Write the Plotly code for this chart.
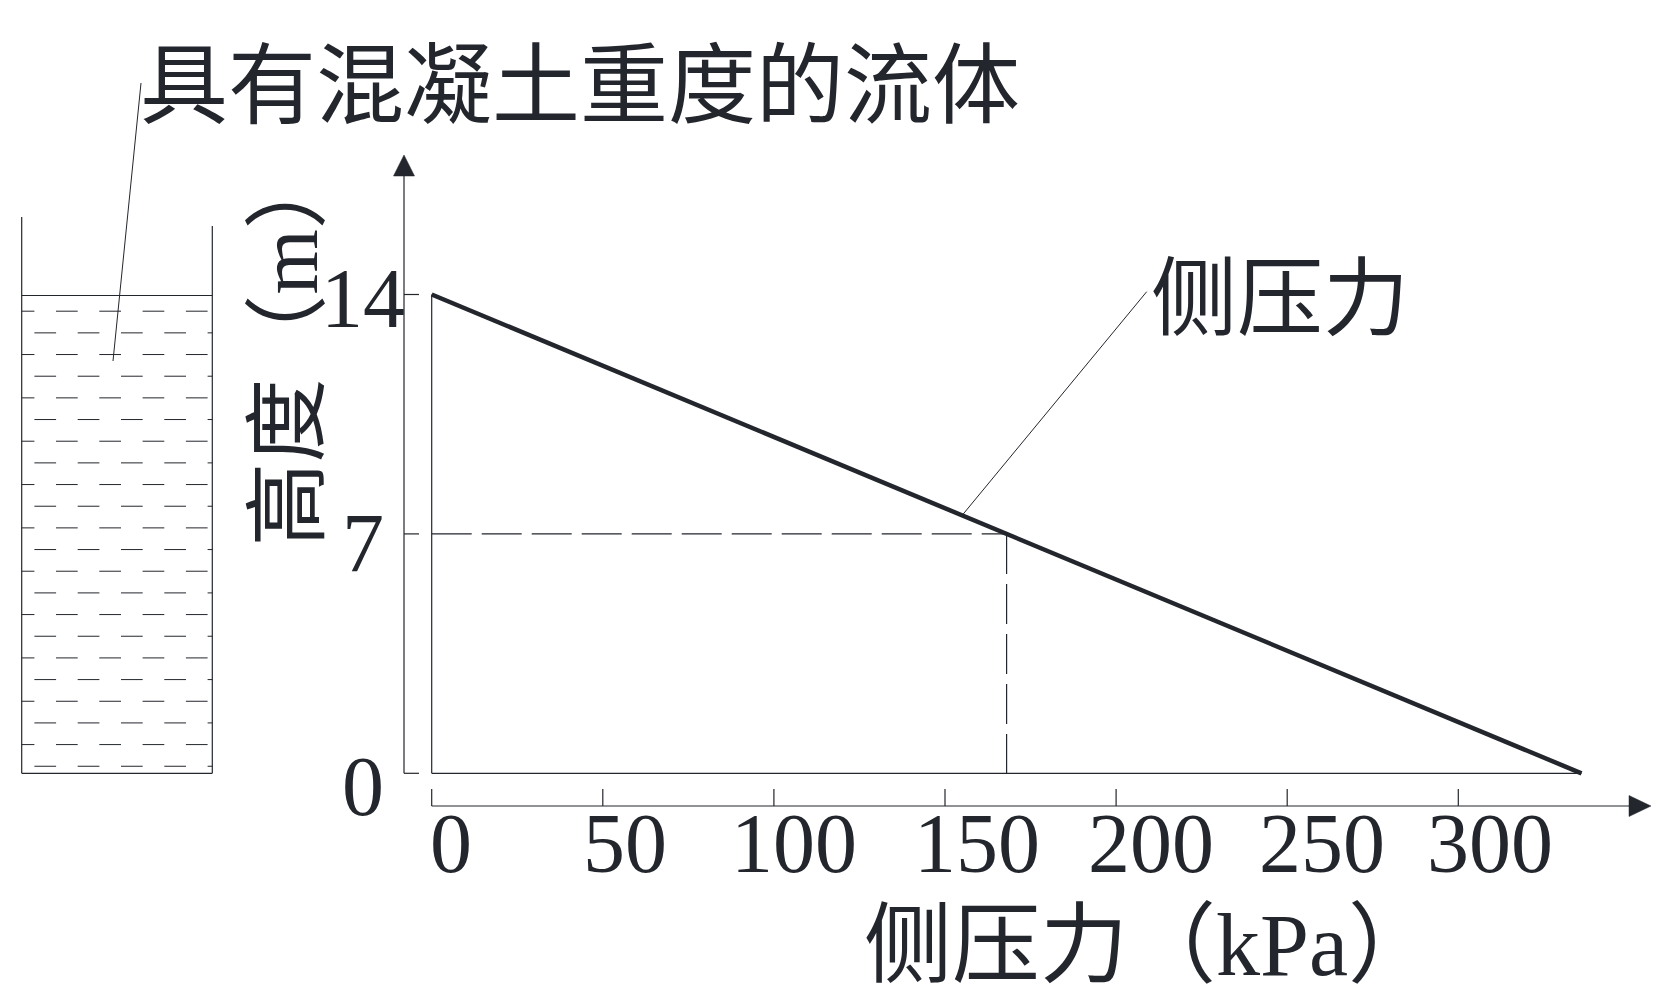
import plotly.graph_objects as go

# ---------------- data ----------------
pressure_kpa = [0, 336]          # lateral pressure along the line
height_m = [14, 0]               # height along the line
ref_pressure = 168               # dashed reference point
ref_height = 7
x_ticks = [0, 50, 100, 150, 200, 250, 300]
x_tick_labels = ["0", "50", "100", "150", "200", "250", "300"]
y_ticks = [0, 7, 14]
y_tick_labels = ["0", "7", "14"]
title_text = "具有混凝土重度的流体"
line_label = "侧压力"
x_title = "侧压力（kPa）"
y_title = "高度（m）"

# ---------------- layout geometry (pixels of the 1663x1001 window) ----------------
PAGE_OFF = 8                 # default page margin around the figure
W, H = 1663 - 2 * PAGE_OFF, 1001 - 2 * PAGE_OFF
SX = 1026.6 / 300.0          # px per kPa
SY = 34.2                    # px per m
PX0 = 431.7 - PAGE_OFF       # figure-pixel x of pressure 0
PY0 = 773.3 - PAGE_OFF       # figure-pixel y of height 0
X0 = -PX0 / SX
X1 = X0 + W / SX
Y_TOP = PY0 / SY
Y_BOT = -(H - PY0) / SY


def X(px):
    """window pixel x -> data x"""
    return X0 + (px - PAGE_OFF) / SX


def Y(py):
    """window pixel y -> data y"""
    return (PY0 - (py - PAGE_OFF)) / SY


INK = "#23262c"
THIN = 1.2
SERIF = "Liberation Serif, Noto Sans CJK SC, serif"
CJK = "Noto Sans CJK SC, sans-serif"

fig = go.Figure()

# main line
fig.add_trace(go.Scatter(x=pressure_kpa, y=height_m, mode="lines",
                         line=dict(color=INK, width=4.5), hoverinfo="skip",
                         showlegend=False))

shapes = []


def seg(x0, y0, x1, y1, width=THIN, dash="solid", color=INK):
    shapes.append(dict(type="line", xref="x", yref="y", x0=x0, y0=y0, x1=x1, y1=y1,
                       line=dict(color=color, width=width, dash=dash)))


# inner frame of the diagram
seg(0, 0, 0, max(height_m))
seg(0, 0, max(pressure_kpa), 0)

# dashed reference lines at 7 m
seg(0, ref_height, ref_pressure, ref_height, dash="40px,10px")
seg(ref_pressure, ref_height, ref_pressure, 0, dash="40px,10px")

# y axis with arrow
y_axis_px = 404
seg(X(y_axis_px), 0, X(y_axis_px), Y(175))
shapes.append(dict(type="path", xref="x", yref="y",
                   path=f"M {X(y_axis_px)},{Y(155)} L {X(y_axis_px-10.5)},{Y(176)} "
                        f"L {X(y_axis_px+10.5)},{Y(176)} Z",
                   fillcolor=INK, line=dict(color=INK, width=0.5)))
for yt in y_ticks:
    seg(X(y_axis_px), yt, X(y_axis_px + 15), yt)

# x axis with arrow
x_axis_py = 806
seg(0, Y(x_axis_py), X(1631), Y(x_axis_py))
shapes.append(dict(type="path", xref="x", yref="y",
                   path=f"M {X(1651)},{Y(x_axis_py)} L {X(1629)},{Y(x_axis_py-10.5)} "
                        f"L {X(1629)},{Y(x_axis_py+10.5)} Z",
                   fillcolor=INK, line=dict(color=INK, width=0.5)))
for xt in x_ticks:
    seg(xt, Y(x_axis_py), xt, Y(789))

# container with fluid (illustration on the left)
wall_l, wall_r = 21.7, 212.3
surf_py, bot_py = 295.5, 773.3
seg(X(wall_l), Y(217), X(wall_l), Y(bot_py))
seg(X(wall_r), Y(226), X(wall_r), Y(bot_py))
seg(X(wall_l), Y(bot_py), X(wall_r), Y(bot_py))
seg(X(wall_l), Y(surf_py), X(wall_r), Y(surf_py))
period, dash_len = 43.3, 21.7
n_rows = 22
for k in range(n_rows):
    py = surf_py + (41 + 56.6 * k) / 1248.0 * (bot_py - surf_py)
    start = 12.7 + (dash_len if k % 2 else 0.0)
    s = start
    while s < wall_r:
        a, b = max(s, wall_l), min(s + dash_len, wall_r)
        if b - a > 1:
            seg(X(a), Y(py), X(b), Y(py), width=1.0)
        s += period

# leader lines
seg(X(141), Y(83), X(113), Y(361), width=1.0)
touch_p = 155
touch_h = height_m[0] - touch_p * (height_m[0] - height_m[1]) / (pressure_kpa[1] - pressure_kpa[0])
seg(touch_p, touch_h, X(1146.7), Y(291.7), width=1.0)

fig.update_layout(shapes=shapes)

ann = []
# x tick labels
x_label_shift = [19, 22, 20, 32, 35, 35, 32]
for xt, lab, sh in zip(x_ticks, x_tick_labels, x_label_shift):
    ann.append(dict(x=xt, y=Y(843), text=lab, xref="x", yref="y", showarrow=False,
                    xshift=sh, xanchor="center", yanchor="middle",
                    font=dict(family=SERIF, size=84, color=INK)))
# y tick labels
y_label_py = [786, 543, 298]
for yt, lab, py in zip(y_ticks, y_tick_labels, y_label_py):
    ann.append(dict(x=X(363), y=Y(py), text=lab, xref="x", yref="y", showarrow=False,
                    xanchor="center", yanchor="middle",
                    font=dict(family=SERIF, size=84, color=INK)))
# titles and labels
ann.append(dict(x=X(580), y=Y(77), text=title_text, xref="x", yref="y", showarrow=False,
                xanchor="center", yanchor="middle", font=dict(family=CJK, size=88, color=INK)))
ann.append(dict(x=X(1280), y=Y(291), text=line_label, xref="x", yref="y", showarrow=False,
                xanchor="center", yanchor="middle", font=dict(family=CJK, size=86, color=INK)))
ann.append(dict(x=X(1150), y=Y(945), text=x_title, xref="x", yref="y", showarrow=False,
                xanchor="center", yanchor="middle", font=dict(family=SERIF, size=88, color=INK)))
ann.append(dict(x=X(287.5), y=Y(346), text=y_title, xref="x", yref="y", showarrow=False,
                textangle=-90, xanchor="center", yanchor="middle",
                font=dict(family=SERIF, size=84, color=INK)))
fig.update_layout(annotations=ann)

fig.update_layout(
    width=W, height=H, autosize=False,
    margin=dict(l=0, r=0, t=0, b=0, pad=0),
    paper_bgcolor="white", plot_bgcolor="white",
    xaxis=dict(range=[X0, X1], visible=False, fixedrange=True),
    yaxis=dict(range=[Y_BOT, Y_TOP], visible=False, fixedrange=True),
    showlegend=False,
)

fig.write_html("out.html")
